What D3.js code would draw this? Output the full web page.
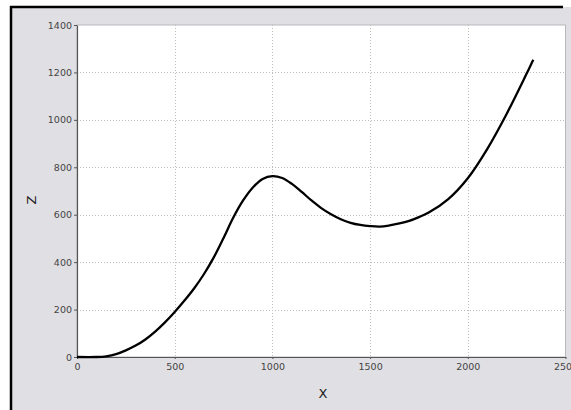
<!DOCTYPE html>
<html><head><meta charset="utf-8">
<script src="https://cdn.jsdelivr.net/npm/d3@7"></script>
<style>
html,body{margin:0;padding:0;background:#fff;}
svg{display:block;}
</style></head>
<body>
<svg id="chart" width="571" height="410"></svg>
<script>
const xValues = [0,100,150,200,250,300,350,400,450,500,550,600,650,700,750,800,850,900,950,1000,1050,1100,1150,1200,1250,1300,1350,1400,1450,1500,1550,1600,1650,1700,1750,1800,1900,2000,2100,2200,2300,2335];
const zValues = [0,0,3,12,28,48,74,107,146,190,238,290,350,420,502,588,660,715,751,763,755,730,696,660,628,602,581,566,557,552,550,555,563,574,590,609,666,754,878,1027,1193,1253];
const xTicks = [0,500,1000,1500,2000,2500];
const yTicks = [0,200,400,600,800,1000,1200,1400];
const xLabel = "X";
const yLabel = "Z";

(function(){
const svg = d3.select("#chart");
const W = 571, H = 410;
const pL = 77, pR = 565.5, pT = 25, pB = 357;

svg.append("rect").attr("x",11).attr("y",7).attr("width",W-11).attr("height",H-7).attr("fill","#e0dfe3");
svg.append("line").attr("x1",11).attr("x2",11).attr("y1",6).attr("y2",H).attr("stroke","#000").attr("stroke-width",2.5);
svg.append("line").attr("x1",10).attr("x2",563).attr("y1",7).attr("y2",7).attr("stroke","#000").attr("stroke-width",2.5);

const x = d3.scaleLinear().domain([0,2500]).range([pL,pR]);
const y = d3.scaleLinear().domain([0,1400]).range([pB,pT]);

svg.append("rect").attr("x",pL).attr("y",pT).attr("width",pR-pL).attr("height",pB-pT)
  .attr("fill","#fff").attr("stroke","#b8b8bc").attr("stroke-width",1);

const g = svg.append("g");
g.selectAll(".vg").data(xTicks.filter(d=>d>0&&d<2500)).enter().append("line")
  .attr("x1",d=>Math.round(x(d))+0.5).attr("x2",d=>Math.round(x(d))+0.5).attr("y1",pT).attr("y2",pB)
  .attr("stroke","#bdbdbd").attr("stroke-dasharray","1,2");
g.selectAll(".hg").data(yTicks.filter(d=>d>0&&d<1400)).enter().append("line")
  .attr("y1",d=>Math.round(y(d))+0.5).attr("y2",d=>Math.round(y(d))+0.5).attr("x1",pL).attr("x2",pR)
  .attr("stroke","#bdbdbd").attr("stroke-dasharray","1,2");

const xAxis = d3.axisBottom(x).tickValues(xTicks).tickSizeInner(2).tickSizeOuter(0).tickPadding(4).tickFormat(d3.format("d"));
const yAxis = d3.axisLeft(y).tickValues(yTicks).tickSizeInner(3).tickSizeOuter(0).tickPadding(2).tickFormat(d3.format("d"));
const xa = svg.append("g").attr("transform",`translate(0,${pB})`).call(xAxis);
const ya = svg.append("g").attr("transform",`translate(${pL},0)`).call(yAxis);
[xa,ya].forEach(a=>{
  a.select(".domain").attr("stroke","#555").attr("stroke-width",1.2);
  a.selectAll(".tick line").attr("stroke","#555");
  a.selectAll("text").attr("fill","#444").attr("font-family","DejaVu Sans, sans-serif").attr("font-size","9.5px");
});

const line = d3.line().x((d,i)=>x(xValues[i])).y((d,i)=>y(zValues[i])).curve(d3.curveCatmullRom.alpha(0.5));
svg.append("path").datum(zValues).attr("d",line).attr("fill","none").attr("stroke","#000").attr("stroke-width",2.3).attr("stroke-linejoin","round");

svg.append("text").attr("x",323).attr("y",398).attr("text-anchor","middle")
  .attr("font-family","DejaVu Sans, sans-serif").attr("font-size","13px").attr("fill","#222").text(xLabel);
svg.append("text").attr("transform","translate(36,200) rotate(-90)").attr("text-anchor","middle")
  .attr("font-family","DejaVu Sans, sans-serif").attr("font-size","13px").attr("fill","#222").text(yLabel);
})();
</script>
</body></html>
